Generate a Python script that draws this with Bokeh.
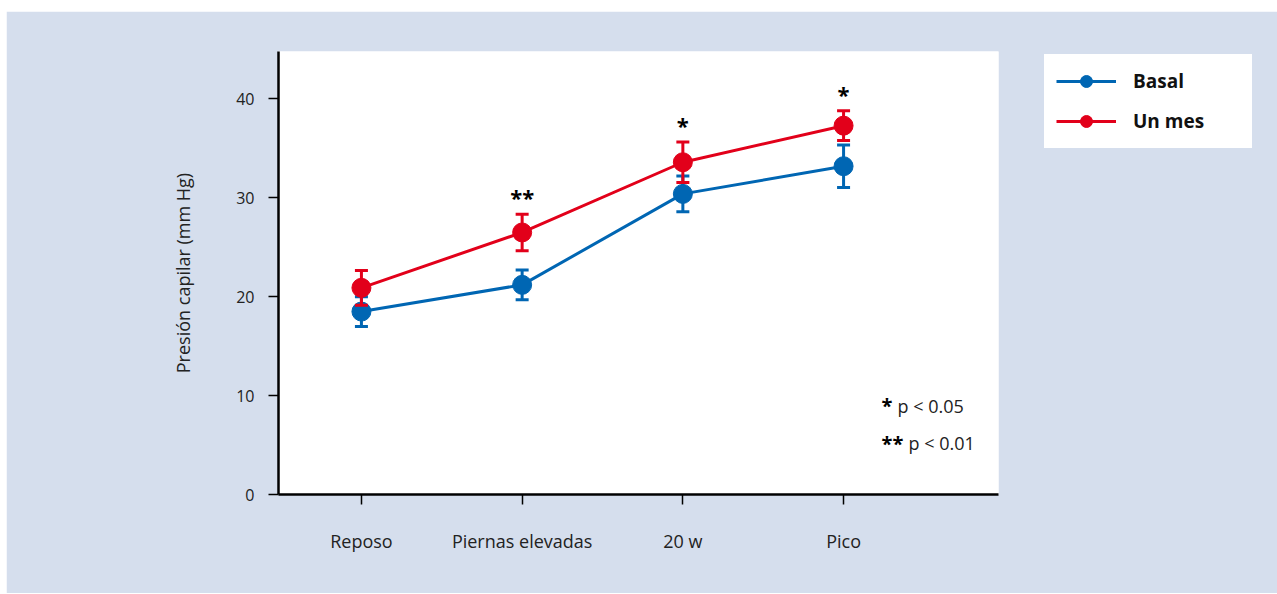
from bokeh.plotting import figure
from bokeh.models import (Range1d, FixedTicker, Legend, LegendItem, ColumnDataSource, Label)
from bokeh.core.properties import value
from bokeh.embed import file_html
from bokeh.resources import INLINE

# ---- data ----
categories = ["Reposo", "Piernas elevadas", "20 w", "Pico"]
basal_mean = [18.5, 21.2, 30.4, 33.2]
basal_err = [1.5, 1.5, 1.8, 2.15]
unmes_mean = [20.9, 26.5, 33.6, 37.3]
unmes_err = [1.75, 1.85, 2.05, 1.5]
sig_marks = ["", "**", "*", "*"]
y_ticks = [0, 10, 20, 30, 40]

BG = "#d5deed"
BLUE = "#0066b3"
RED = "#e2001a"
FONT = "Open Sans"

xs = list(range(len(categories)))

p = figure(frame_width=720, frame_height=443, output_backend="svg", toolbar_location=None,
           x_range=Range1d(-0.516, 3.964), y_range=Range1d(0, 44.8),
           min_border_left=272, min_border_top=40, min_border_bottom=99, min_border_right=277,
           margin=(11, 0, 0, 6))
p.border_fill_color = BG
p.background_fill_color = "white"
p.outline_line_color = None
p.grid.visible = False

# axes
p.yaxis.ticker = FixedTicker(ticks=y_ticks)
p.xaxis.ticker = FixedTicker(ticks=xs)
p.xaxis.major_label_overrides = {i: c for i, c in enumerate(categories)}
for ax in (p.xaxis[0], p.yaxis[0]):
    ax.axis_line_width = 2.5
    ax.axis_line_color = "black"
    ax.major_tick_line_color = "black"
    ax.major_tick_line_width = 1.5
    ax.major_tick_in = 0
    ax.major_tick_out = 10
    ax.minor_tick_line_color = None
    ax.major_label_text_font = FONT
    ax.major_label_text_color = "#222222"
p.yaxis.major_label_text_font_size = "16px"
p.yaxis.major_label_standoff = 14
p.xaxis.major_label_text_font_size = "18px"
p.xaxis.major_label_standoff = 24
p.yaxis.axis_label = "Presión capilar (mm Hg)"
p.yaxis.axis_label_text_font = FONT
p.yaxis.axis_label_text_font_style = "normal"
p.yaxis.axis_label_text_font_size = "18px"
p.yaxis.axis_label_text_color = "#222222"
p.yaxis.axis_label_standoff = 38


def series(mean, err, color):
    src = ColumnDataSource(dict(x=xs, y=mean,
                                lo=[m - e for m, e in zip(mean, err)],
                                hi=[m + e for m, e in zip(mean, err)]))
    ln = p.line("x", "y", source=src, line_color=color, line_width=3)
    p.segment(x0="x", y0="lo", x1="x", y1="hi", source=src, line_color=color, line_width=3)
    p.scatter("x", "lo", source=src, marker="dash", size=13, line_color=color, line_width=3)
    p.scatter("x", "hi", source=src, marker="dash", size=13, line_color=color, line_width=3)
    sc = p.scatter("x", "y", source=src, marker="circle", size=19, fill_color=color, line_color=color)
    return ln, sc

b_ln, b_sc = series(basal_mean, basal_err, BLUE)
u_ln, u_sc = series(unmes_mean, unmes_err, RED)

# significance marks
sig_src = ColumnDataSource(dict(x=xs, y=[m + e + 1.75 for m, e in zip(unmes_mean, unmes_err)], t=sig_marks))
p.text("x", "y", text="t", source=sig_src, text_font=value(FONT), text_font_style="bold",
       text_font_size="22px", text_align="center", text_baseline="middle", text_color="black")

# p-value notes
notes = [("*", "p < 0.05", 9.0, 3.336), ("**", "p < 0.01", 5.2, 3.404)]
for star, txt, yv, xt in notes:
    p.add_layout(Label(x=3.236, y=yv, text=star, text_font=FONT, text_font_style="bold",
                       text_font_size="20px", text_baseline="middle", text_color="black"))
    p.add_layout(Label(x=xt, y=yv, text=txt, text_font=FONT,
                       text_font_size="18px", text_baseline="middle", text_color="#222222"))

legend = Legend(items=[LegendItem(label="Basal", renderers=[b_ln, b_sc]),
                       LegendItem(label="Un mes", renderers=[u_ln, u_sc])],
                location=(46, 346), orientation="vertical")
legend.border_line_color = "white"
legend.border_line_width = 12
legend.border_line_join = "miter"
legend.background_fill_color = "white"
legend.background_fill_alpha = 1.0
legend.padding = 0
legend.spacing = 10
legend.glyph_height = 30
legend.glyph_width = 60
legend.label_standoff = 17
legend.label_width = 107
legend.label_text_font = FONT
legend.label_text_font_style = "bold"
legend.label_text_font_size = "19px"
legend.label_text_color = "#111111"
legend.margin = 0
p.add_layout(legend, "right")

open("out.html", "w").write(file_html(p, INLINE))
